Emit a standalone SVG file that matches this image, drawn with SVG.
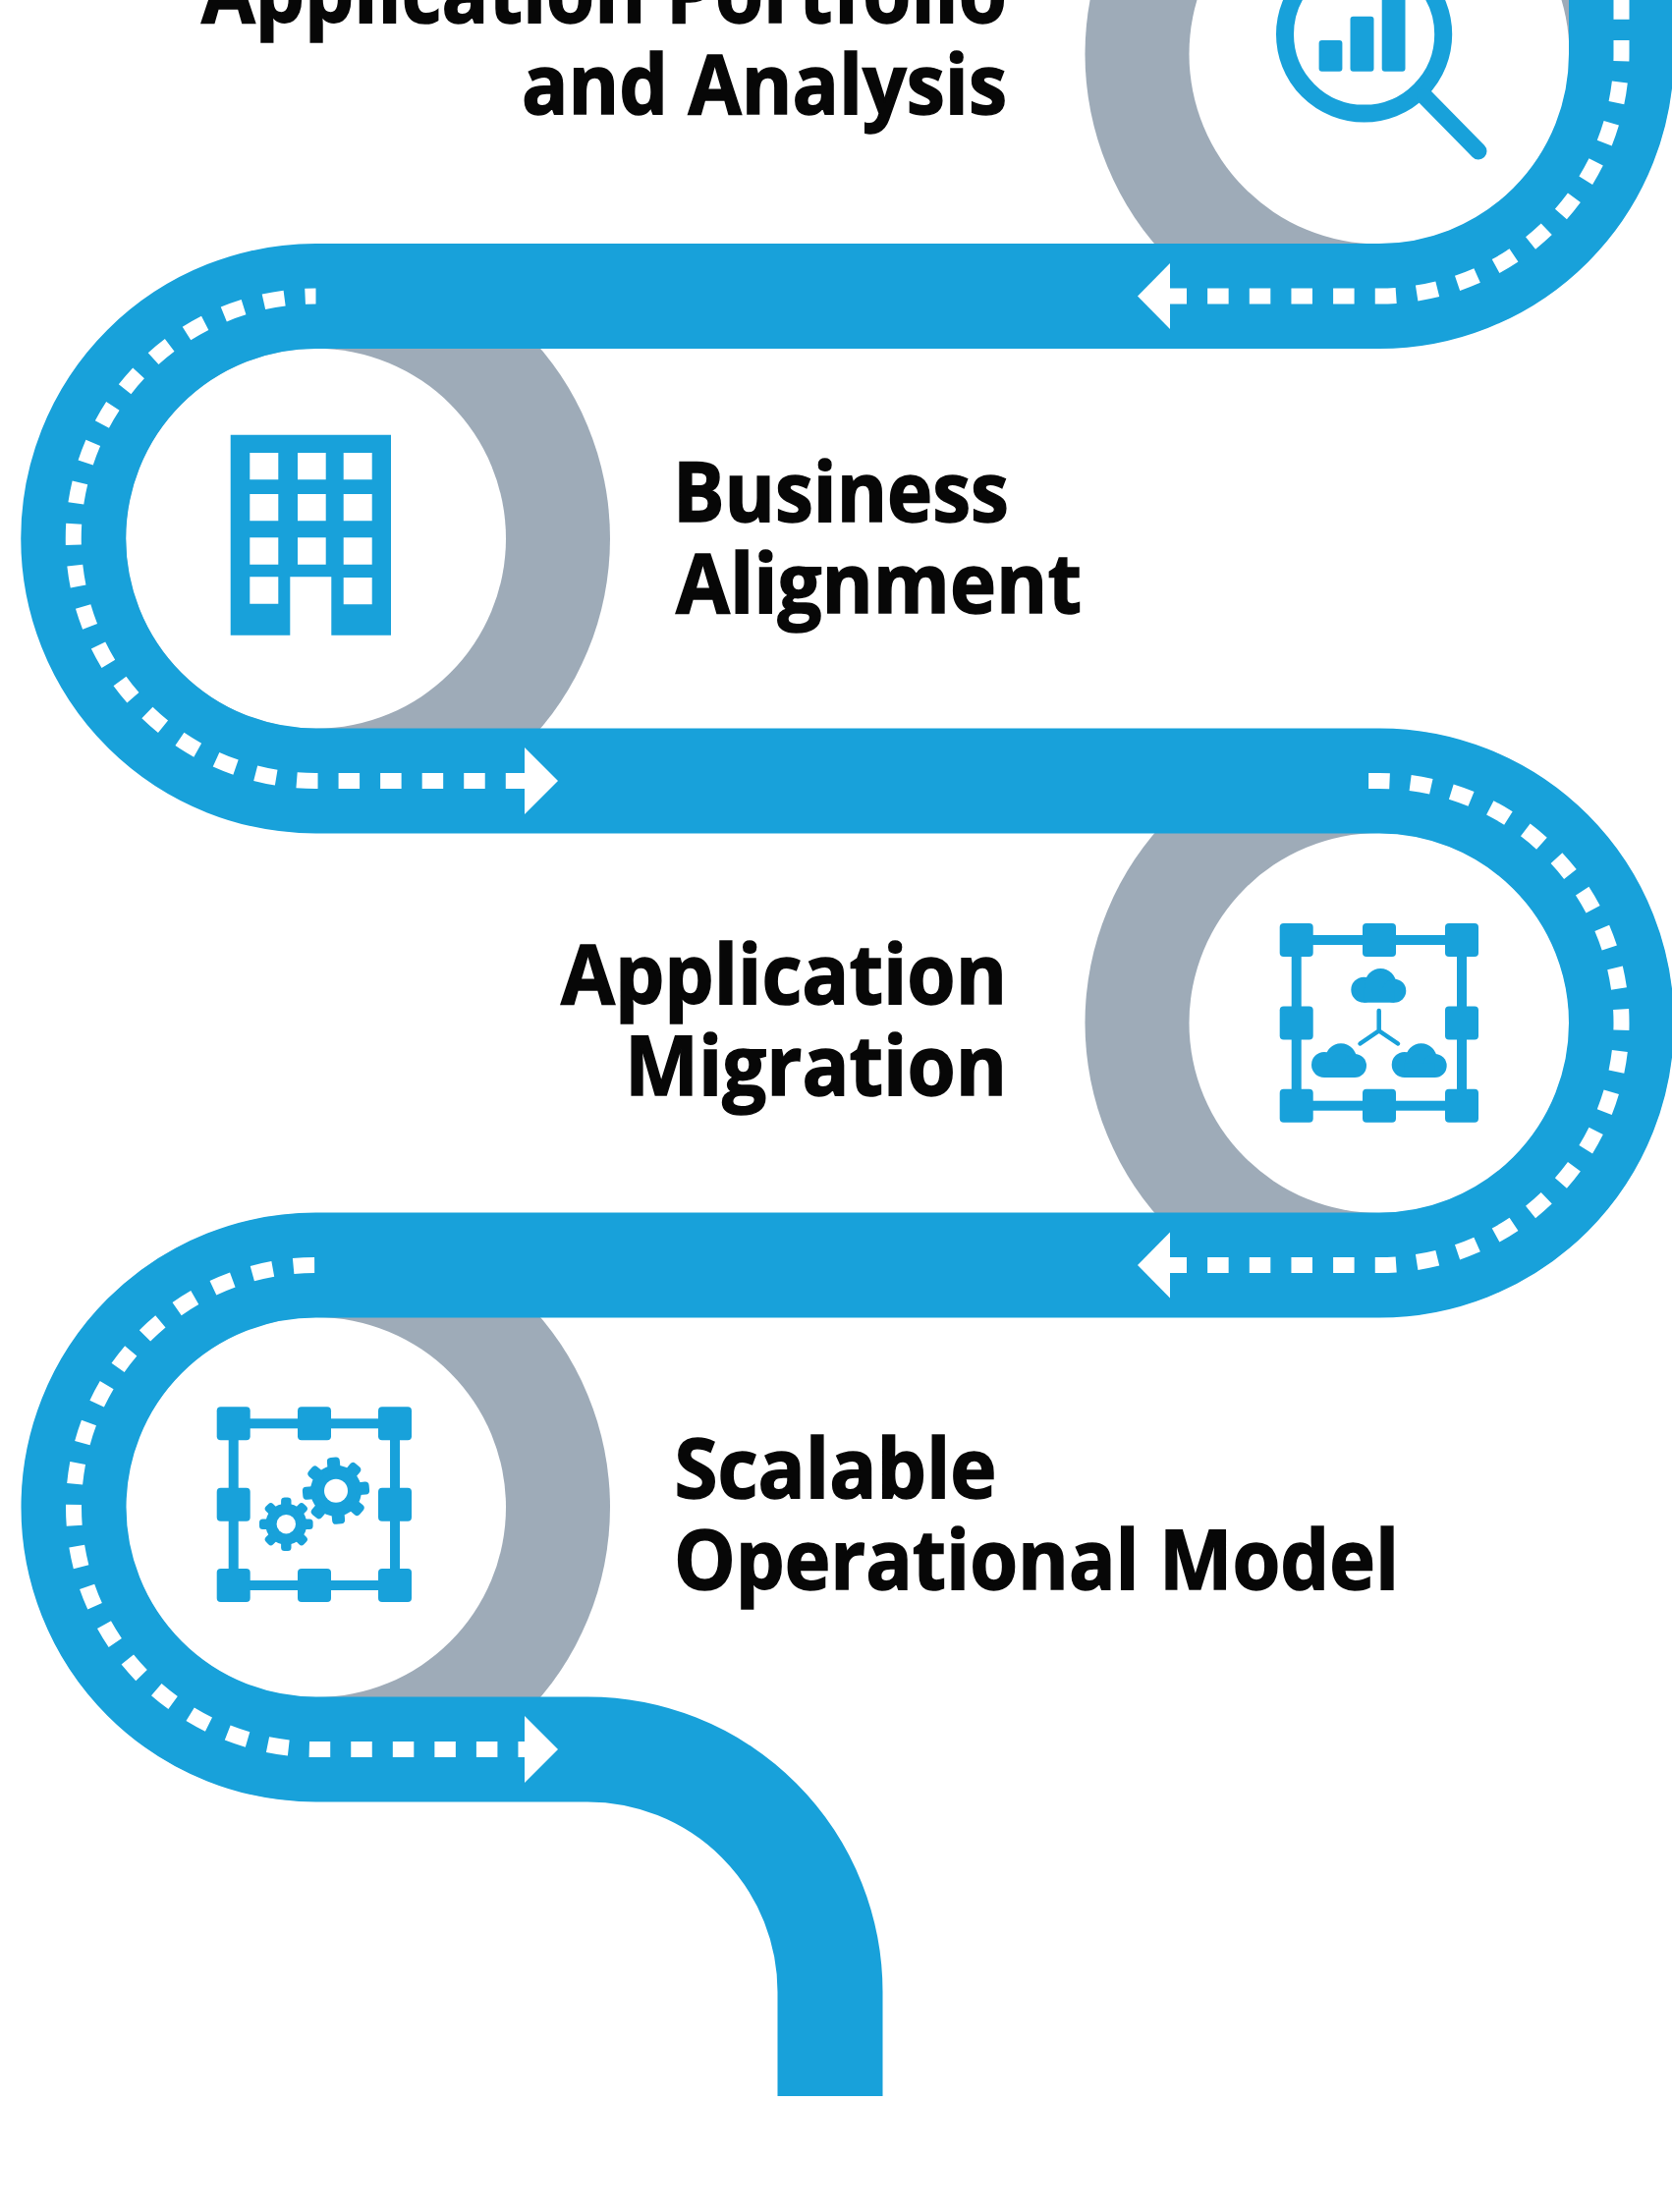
<svg xmlns="http://www.w3.org/2000/svg" width="1702" height="2252" viewBox="0 0 1702 2252">
<style>
.road{fill:none;stroke:#18a1da;stroke-width:107}
.dash{fill:none;stroke:#fff;stroke-width:16}
.dr{stroke-dasharray:21.5 21.15;stroke-dashoffset:4.5}
.dl{stroke-dasharray:21.5 21.05}
.gray{fill:#9eabb8}
.in{fill:#fff}
.ico{fill:#18a1da}
.ln{fill:none;stroke:#18a1da}
.arrow{fill:#fff}
.t{font-family:"Open Sans","Noto Sans",sans-serif;font-weight:700;font-size:85px;fill:#070707;stroke:#070707;stroke-width:1.5}
</style>
<defs>
<rect id="sq" x="-17" y="-17" width="34" height="34" rx="4" class="ico"/>
<g id="cloud" class="ico"><circle cx="13" cy="21.7" r="13"/><circle cx="30" cy="16" r="16"/><circle cx="44" cy="22.7" r="12"/><rect x="13" y="20" width="31" height="14.7"/></g>
<rect id="tb" x="-6.5" y="-34" width="13" height="14" rx="4" class="ico"/>
<rect id="ts" x="-5.2" y="-27.3" width="10.4" height="12" rx="3.500" class="ico"/>
</defs>

<g id="discs">
<circle class="gray" cx="1404" cy="55" r="299.500"/><circle class="in" cx="1404" cy="55" r="193.500"/>
<circle class="gray" cx="321.500" cy="548.250" r="299.500"/><circle class="in" cx="321.500" cy="548.250" r="193.500"/>
<circle class="gray" cx="1404" cy="1041.500" r="299.500"/><circle class="in" cx="1404" cy="1041.500" r="193.500"/>
<circle class="gray" cx="321.500" cy="1534.500" r="299.500"/><circle class="in" cx="321.500" cy="1534.500" r="193.500"/>
</g>

<g id="connectors">
<path class="road" d="M1650.500 -10V55A246.500 246.500 0 0 1 1404 301.500H321.500A100 100 0 0 0 321.500 795H1404A100 100 0 0 1 1404 1288H321.500A100 100 0 0 0 321.500 1781H598A247 247 0 0 1 845 2028V2134"/>
<path class="dash dr" d="M1191 301.500H1404A246.500 246.500 0 0 0 1650.500 55V-10"/>
<path class="dash dl" style="stroke-dashoffset:10.5" d="M321.500 301.500A100 100 0 0 0 321.500 795H534"/>
<path class="dash dr" d="M1191 1288H1404A100 100 0 0 0 1404 795H1393"/>
<path class="dash dl" style="stroke-dashoffset:-1.4" d="M321.500 1288A100 100 0 0 0 321.500 1781H534"/>
<polygon id="arrow1" class="arrow" points="1158,301.500 1191,268 1191,335"/>
<polygon id="arrow2" class="arrow" points="568,795 534,761 534,829"/>
<polygon id="arrow3" class="arrow" points="1158,1288 1191,1254.500 1191,1321.500"/>
<polygon id="arrow4" class="arrow" points="568,1781 534,1747 534,1815"/>
</g>

<g id="node-portfolio">
<circle class="ln" stroke-width="18" cx="1388.600" cy="35" r="80.600"/>
<line class="ln" stroke-width="17" stroke-linecap="round" x1="1451" y1="99" x2="1505" y2="154"/>
<rect class="ico" x="1342.600" y="41" width="23.800" height="31.700" rx="3"/>
<rect class="ico" x="1374.500" y="16.700" width="24" height="56" rx="3"/>
<rect class="ico" x="1406.700" y="-20" width="23.800" height="92.700" rx="3"/>
<text class="t" x="205" y="22.700" textLength="820" lengthAdjust="spacingAndGlyphs">Application Portfolio</text>
<text class="t" x="531" y="116" textLength="494" lengthAdjust="spacingAndGlyphs">and Analysis</text>
</g>

<g id="node-business">
<path class="ico" fill-rule="evenodd" d="M234.700 442.700H398V646.700H337.300V587.300H295.300V646.700H234.700ZM254.300 461V488.300H283.300V461ZM303 461V488.300H331.700V461ZM349.700 461V488.300H378.700V461ZM254.300 503V530.300H283.300V503ZM303 503V530.300H331.700V503ZM349.700 503V530.300H378.700V503ZM254.300 547.300V574.700H283.300V547.300ZM303 547.300V574.700H331.700V547.300ZM349.700 547.300V574.700H378.700V547.300ZM254.300 587.300V614.700H283.300V587.300ZM349.700 588V615.300H378.700V588Z"/>
<text class="t" x="685" y="530.700" textLength="342" lengthAdjust="spacingAndGlyphs">Business</text>
<text class="t" x="688" y="623.500" textLength="413" lengthAdjust="spacingAndGlyphs">Alignment</text>
</g>

<g id="node-migration">
<rect class="ln" stroke-width="10" x="1319.700" y="957" width="168.300" height="168.700"/>
<use href="#sq" x="1319.700" y="957"/><use href="#sq" x="1404" y="957"/><use href="#sq" x="1488" y="957"/>
<use href="#sq" x="1319.700" y="1041.500"/><use href="#sq" x="1488" y="1041.500"/>
<use href="#sq" x="1319.700" y="1125.700"/><use href="#sq" x="1404" y="1125.700"/><use href="#sq" x="1488" y="1125.700"/>
<use href="#cloud" x="1375.300" y="986"/><use href="#cloud" x="1335" y="1062.300"/><use href="#cloud" x="1416.700" y="1062.300"/>
<path class="ln" stroke-width="4.500" stroke-linecap="round" d="M1403.700 1029V1049.500M1384.500 1062.500L1403.700 1049.500L1423 1062.500"/>
<text class="t" x="571" y="1022" textLength="454" lengthAdjust="spacingAndGlyphs">Application</text>
<text class="t" x="636" y="1115" textLength="389" lengthAdjust="spacingAndGlyphs">Migration</text>
</g>

<g id="node-scalable">
<rect class="ln" stroke-width="10" x="237.700" y="1449.300" width="164.300" height="164.700"/>
<use href="#sq" x="237.700" y="1449.300"/><use href="#sq" x="320" y="1449.300"/><use href="#sq" x="402" y="1449.300"/>
<use href="#sq" x="237.700" y="1531.700"/><use href="#sq" x="402" y="1531.700"/>
<use href="#sq" x="237.700" y="1614"/><use href="#sq" x="320" y="1614"/><use href="#sq" x="402" y="1614"/>
<g transform="translate(342 1517.700)"><circle class="ico" r="26"/><circle class="in" r="12"/>
<use href="#tb" transform="rotate(-5)"/><use href="#tb" transform="rotate(40)"/><use href="#tb" transform="rotate(85)"/><use href="#tb" transform="rotate(130)"/><use href="#tb" transform="rotate(175)"/><use href="#tb" transform="rotate(220)"/><use href="#tb" transform="rotate(265)"/><use href="#tb" transform="rotate(310)"/></g>
<g transform="translate(291.300 1551.700)"><circle class="ico" r="21"/><circle class="in" r="9.700"/>
<use href="#ts"/><use href="#ts" transform="rotate(45)"/><use href="#ts" transform="rotate(90)"/><use href="#ts" transform="rotate(135)"/><use href="#ts" transform="rotate(180)"/><use href="#ts" transform="rotate(225)"/><use href="#ts" transform="rotate(270)"/><use href="#ts" transform="rotate(315)"/></g>
<text class="t" x="686.500" y="1525" textLength="328" lengthAdjust="spacingAndGlyphs">Scalable</text>
<text class="t" x="686" y="1618" textLength="738" lengthAdjust="spacingAndGlyphs">Operational Model</text>
</g>
</svg>
